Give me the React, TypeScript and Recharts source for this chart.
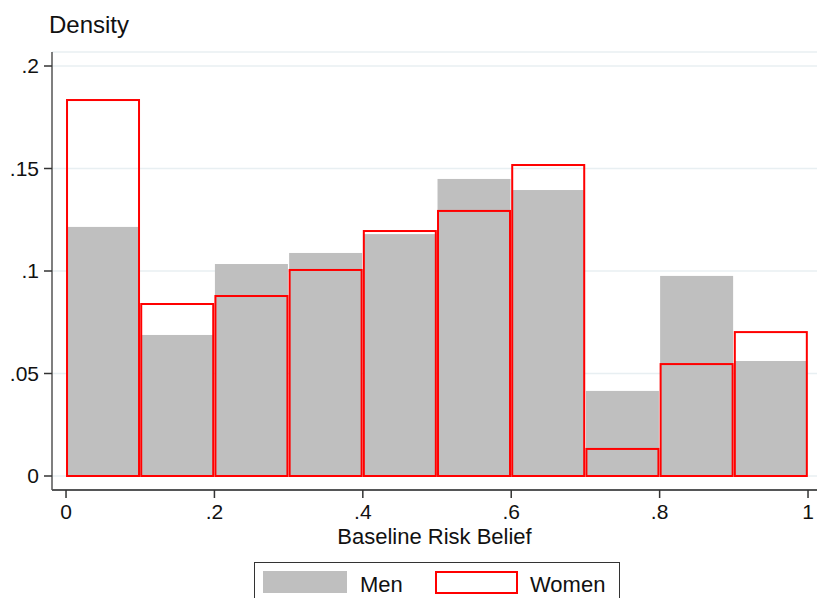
import { Bar, CartesianGrid, ComposedChart, XAxis, YAxis } from "recharts";

// histogram bins (left edges), width 0.1
const binStarts = [0, 0.1, 0.2, 0.3, 0.4, 0.5, 0.6, 0.7, 0.8, 0.9];
const menDensity = [0.1215, 0.0688, 0.1034, 0.1088, 0.118, 0.1449, 0.1395, 0.0415, 0.0976, 0.0561];
const womenDensity = [0.1834, 0.0839, 0.0878, 0.1005, 0.1195, 0.1293, 0.1517, 0.0132, 0.0546, 0.0702];
const xTicks = [0, 0.2, 0.4, 0.6, 0.8, 1];
const yTicks = [0, 0.05, 0.1, 0.15, 0.2];

const data = binStarts.map((s, i) => ({
  mid: s + 0.05,
  men: menDensity[i],
  women: womenDensity[i],
}));

const FONT = "'Liberation Sans', Arial, sans-serif";
const GRAY = "#bfbfbf";
const RED = "#ff0000";

// Stata style: drop the leading zero (".2", ".05")
const fmt = (v: number) => (v === 0 ? "0" : v === 1 ? "1" : String(+v.toFixed(2)).replace(/^0\./, "."));

function WomenBar(props: any) {
  const { x, y, width, height } = props;
  if (!height) return null;
  return (
    <rect
      x={x + 1}
      y={y}
      width={width - 2}
      height={height}
      fill="none"
      stroke={RED}
      strokeWidth={2}
    />
  );
}

function MenBar(props: any) {
  const { x, y, width, height } = props;
  if (!height) return null;
  return <rect x={x + 0.5} y={y} width={width - 1} height={height} fill={GRAY} />;
}

export default function App() {
  const tick = { fontSize: 21, fill: "#111", fontFamily: FONT };
  return (
    <div style={{ position: "absolute", left: 0, top: 0, width: 817, height: 598, background: "#fff", fontFamily: FONT }}>
      <ComposedChart
        width={817}
        height={598}
        data={data}
        barCategoryGap={0}
        barGap={0}
        margin={{ top: 52, right: 0, bottom: 48, left: 0 }}
      >
        <CartesianGrid vertical={false} stroke="#e8eff2" strokeWidth={1.5} />
        <XAxis
          xAxisId="x"
          type="number"
          dataKey="mid"
          domain={[-0.0189, 1.0121]}
          allowDataOverflow
          ticks={xTicks}
          tickFormatter={fmt}
          tick={tick}
          tickSize={8}
          tickMargin={6}
          height={60}
          axisLine={{ stroke: "#222", strokeWidth: 1.5 }}
          tickLine={{ stroke: "#333", strokeWidth: 1.5 }}
          label={{
            value: "Baseline Risk Belief",
            position: "insideBottom",
            offset: 6,
            style: { fontSize: 22, fill: "#111", fontFamily: FONT },
          }}
        />
        <XAxis
          xAxisId="x2"
          type="number"
          dataKey="mid"
          domain={[-0.0189, 1.0121]}
          allowDataOverflow
          hide
        />
        <YAxis
          type="number"
          domain={[-0.00683, 0.20683]}
          allowDataOverflow
          ticks={yTicks}
          tickFormatter={fmt}
          tick={tick}
          tickSize={8}
          tickMargin={5}
          width={52}
          axisLine={{ stroke: "#555", strokeWidth: 1.5 }}
          tickLine={{ stroke: "#333", strokeWidth: 1.5 }}
        />
        <Bar
          xAxisId="x"
          dataKey="men"
          name="Men"
          shape={<MenBar />}
          isAnimationActive={false}
        />
        <Bar
          xAxisId="x2"
          dataKey="women"
          name="Women"
          shape={<WomenBar />}
          isAnimationActive={false}
        />
      </ComposedChart>

      <div style={{ position: "absolute", left: 49, top: 11, fontSize: 24, lineHeight: "normal", color: "#111" }}>
        Density
      </div>

      <div
        style={{
          position: "absolute",
          left: 254,
          top: 562,
          width: 366,
          height: 50,
          border: "1.5px solid #333",
          boxSizing: "border-box",
        }}
      >
        <div style={{ position: "absolute", left: 7.5, top: 7.5, width: 84, height: 22, background: GRAY }} />
        <div style={{ position: "absolute", left: 105, top: 8.5, fontSize: 22, lineHeight: "normal", color: "#111" }}>
          Men
        </div>
        <div
          style={{
            position: "absolute",
            left: 179.5,
            top: 7.5,
            width: 83,
            height: 23,
            border: `2px solid ${RED}`,
            boxSizing: "border-box",
          }}
        />
        <div style={{ position: "absolute", left: 275, top: 8.5, fontSize: 22, lineHeight: "normal", color: "#111" }}>
          Women
        </div>
      </div>
    </div>
  );
}
